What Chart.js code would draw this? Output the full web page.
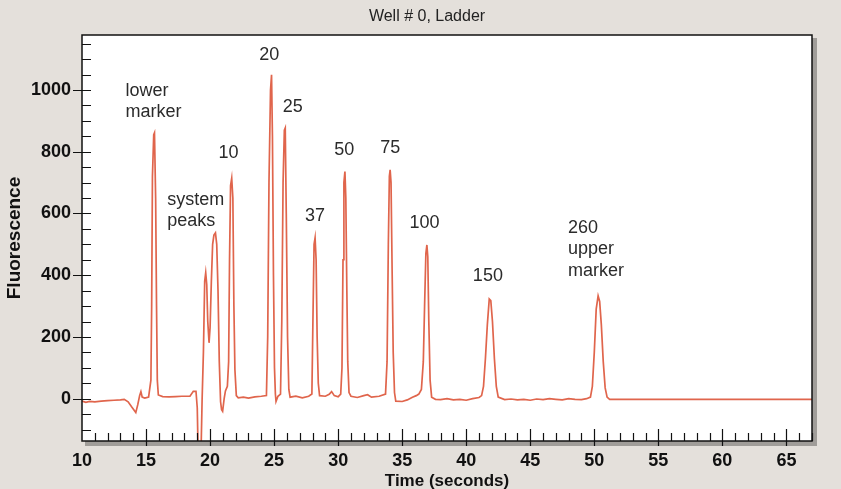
<!DOCTYPE html>
<html>
<head>
<meta charset="utf-8">
<script src="https://cdn.jsdelivr.net/npm/chart.js@4"></script>
<style>
  html, body { margin: 0; padding: 0; background: #e4e0db; }
  #wrap { width: 841px; height: 489px; }
</style>
</head>
<body>
<div id="wrap"><canvas id="chart" width="841" height="489"></canvas></div>
<script>
// electropherogram trace
const timeValues = [
  10.0, 10.3, 10.6, 11.0, 11.5, 12.0, 12.5, 13.0, 13.3, 13.6, 13.9, 14.2, 14.35, 14.5, 14.6, 14.7, 14.9, 15.2,
  15.38, 15.44, 15.5, 15.6, 15.66, 15.75, 15.82, 15.88, 15.96, 16.3, 16.8, 17.3, 17.8, 18.43, 18.69, 18.9,
  19.0, 19.08, 19.28, 19.38, 19.48, 19.58, 19.66, 19.74, 19.82, 19.92, 20.0, 20.1, 20.2, 20.3, 20.42, 20.52,
  20.62, 20.72, 20.82, 20.9, 20.98, 21.1, 21.2, 21.35, 21.45, 21.52, 21.6, 21.69, 21.78, 21.86, 21.94, 22.05,
  22.2, 22.6, 23.0, 23.5, 24.0, 24.4, 24.5, 24.6, 24.72, 24.8, 24.87, 24.95, 25.03, 25.1, 25.15, 25.3,
  25.5, 25.6, 25.7, 25.8, 25.87, 25.95, 26.05, 26.15, 26.25, 26.7, 27.2, 27.7, 27.95, 28.03, 28.12, 28.2,
  28.28, 28.36, 28.45, 28.55, 29.0, 29.3, 29.49, 29.7, 30.0, 30.2, 30.3, 30.38, 30.45, 30.53, 30.6, 30.68,
  30.75, 30.85, 31.0, 31.5, 32.0, 32.3, 32.6, 33.2, 33.7, 33.82, 33.92, 34.0, 34.06, 34.13, 34.22, 34.3,
  34.4, 34.5, 35.0, 35.4, 35.8, 36.1, 36.3, 36.5, 36.65, 36.75, 36.85, 36.93, 37.0, 37.08, 37.18, 37.3,
  37.6, 38.0, 38.5, 39.0, 39.5, 40.0, 40.5, 41.0, 41.2, 41.35, 41.5, 41.65, 41.8, 41.92, 42.05, 42.2,
  42.35, 42.5, 43.0, 43.5, 44.0, 44.5, 45.0, 45.5, 46.0, 46.5, 47.0, 47.5, 48.0, 48.5, 49.0, 49.4,
  49.7, 49.85, 50.0, 50.15, 50.3, 50.42, 50.55, 50.7, 50.85, 51.0, 51.2, 67.0
];
const fluorValues = [
  -8, -12, -9, -10, -8, -6, -5, -4, -2, -10, -28, -45, -20, 10, 23, 5, 2, 5,
  60, 300, 720, 855, 861, 650, 300, 60, 12, 7, 6, 7, 8, 8, 24, 24,
  -30, -200, -200, 0, 150, 380, 408, 370, 250, 181, 230, 380, 500, 530, 537, 500,
  350, 120, -10, -36, -41, 0, 25, 40, 120, 450, 690, 714, 650, 300, 94, 10,
  3, 5, 2, 6, 8, 10, 200, 700, 1000, 1049, 850, 400, 100, 15, -9, 8,
  15, 250, 700, 870, 877, 600, 200, 30, 5, 8, 3, 8, 15, 250, 500, 521,
  450, 200, 50, 10, 8, 14, 23, 10, 6, 15, 100, 450, 700, 736, 650, 350,
  120, 20, 8, 4, 10, 13, 5, 8, 15, 120, 500, 720, 741, 700, 400, 150,
  20, -8, -9, -4, 5, 10, 15, 30, 120, 300, 470, 498, 460, 250, 60, 5,
  -2, -3, 0, -4, -2, -5, 0, 4, 10, 40, 130, 240, 323, 318, 250, 130,
  40, 5, -3, -1, -4, -2, -5, -1, -3, 0, -2, -4, 0, -2, -3, 0,
  5, 40, 150, 290, 333, 315, 240, 120, 35, 5, -2, -2
];

const xTicks = [10, 15, 20, 25, 30, 35, 40, 45, 50, 55, 60, 65];
const yTicks = [0, 200, 400, 600, 800, 1000];

// peak labels: text lines, left x (seconds), first baseline (fluorescence)
const peakLabels = [
  ["lower", "marker"], ["system", "peaks"], ["10"], ["20"], ["25"], ["37"],
  ["50"], ["75"], ["100"], ["150"], ["260", "upper", "marker"]
];
const peakLabelX = [13.4, 16.66, 20.65, 23.84, 25.68, 27.42, 29.69, 33.28, 35.57, 40.52, 47.94];
const peakLabelY = [981, 628, 779, 1097, 928, 574, 790, 795, 552, 380, 538];

const points = timeValues.map((t, i) => ({ x: t, y: fluorValues[i] }));

const FONT = "'Liberation Sans', Arial, sans-serif";

const frame = {
  id: "frame",
  beforeDraw(chart) {
    const { ctx, chartArea: a } = chart;
    ctx.save();
    ctx.fillStyle = "#e4e0db";
    ctx.fillRect(0, 0, chart.width, chart.height);
    ctx.fillStyle = "#ffffff";
    ctx.fillRect(a.left, a.top, a.right - a.left, a.bottom - a.top);
    // title
    ctx.fillStyle = "#222";
    ctx.font = "16px " + FONT;
    ctx.textAlign = "center";
    ctx.textBaseline = "alphabetic";
    ctx.fillText("Well # 0, Ladder", 427, 21);
    ctx.restore();
  },
  afterDatasetsDraw(chart) {
    const { ctx, chartArea: a, scales } = chart;
    const x = scales.x, y = scales.y;
    ctx.save();
    // shadow
    ctx.fillStyle = "#a09d99";
    ctx.fillRect(a.left + 3, a.bottom, a.right - a.left, 5);
    ctx.fillRect(a.right, a.top + 3, 5, a.bottom - a.top + 2);
    // border
    ctx.strokeStyle = "#111";
    ctx.lineWidth = 1.5;
    ctx.strokeRect(a.left, a.top, a.right - a.left, a.bottom - a.top);
    ctx.lineWidth = 1.2;
    ctx.beginPath();
    for (let v = 11; v <= 67; v++) {
      const px = Math.round(x.getPixelForValue(v)) + 0.5;
      const major = v % 5 === 0;
      ctx.moveTo(px, a.bottom + (major ? 5 : 0));
      ctx.lineTo(px, a.bottom - (major ? 12 : 8));
    }
    for (let v = -100; v <= 1150; v += 50) {
      const py = Math.round(y.getPixelForValue(v)) + 0.5;
      const major = v % 200 === 0;
      ctx.moveTo(a.left - (major ? 9 : 0), py);
      ctx.lineTo(a.left + 9, py);
    }
    ctx.stroke();

    // peak labels
    ctx.fillStyle = "#2b2b2b";
    ctx.font = "18px " + FONT;
    ctx.textAlign = "left";
    ctx.textBaseline = "alphabetic";
    peakLabels.forEach((lines, i) => {
      const px = x.getPixelForValue(peakLabelX[i]);
      const py = y.getPixelForValue(peakLabelY[i]);
      lines.forEach((s, j) => ctx.fillText(s, px, py + j * 21.5));
    });
    ctx.restore();
  }
};

new Chart(document.getElementById("chart"), {
  type: "scatter",
  data: {
    datasets: [{
      data: points,
      showLine: true,
      borderColor: "#e0654c",
      borderWidth: 1.7,
      pointRadius: 0,
      tension: 0
    }]
  },
  options: {
    responsive: false,
    animation: false,
    layout: { padding: { left: 0, right: 29, top: 35, bottom: 0 } },
    plugins: {
      legend: { display: false },
      tooltip: { enabled: false },
      title: { display: false }
    },
    scales: {
      x: {
        type: "linear",
        min: 10,
        max: 67,
        afterBuildTicks: s => { s.ticks = xTicks.map(v => ({ value: v })); },
        afterFit: s => { s.height = 48; },
        grid: { display: false, drawTicks: false },
        border: { display: false },
        ticks: {
          color: "#111",
          padding: 11,
          maxRotation: 0,
          callback: v => String(v),
          font: { family: FONT, size: 18, weight: "bold", lineHeight: 1 }
        },
        title: {
          display: true,
          text: "Time (seconds)",
          color: "#111",
          padding: { top: 0, bottom: 0 },
          font: { family: FONT, size: 17, weight: "bold", lineHeight: 0.9 }
        }
      },
      y: {
        type: "linear",
        min: -137,
        max: 1178,
        afterBuildTicks: s => { s.ticks = yTicks.map(v => ({ value: v })); },
        afterFit: s => { s.width = 82; },
        grid: { display: false, drawTicks: false },
        border: { display: false },
        ticks: {
          color: "#111",
          padding: 11,
          callback: v => String(v),
          font: { family: FONT, size: 18, weight: "bold" }
        },
        title: {
          display: true,
          text: "Fluorescence",
          color: "#111",
          padding: { top: 5.5, bottom: 0 },
          font: { family: FONT, size: 19, weight: "bold", lineHeight: 1 }
        }
      }
    }
  },
  plugins: [frame]
});
</script>
</body>
</html>
